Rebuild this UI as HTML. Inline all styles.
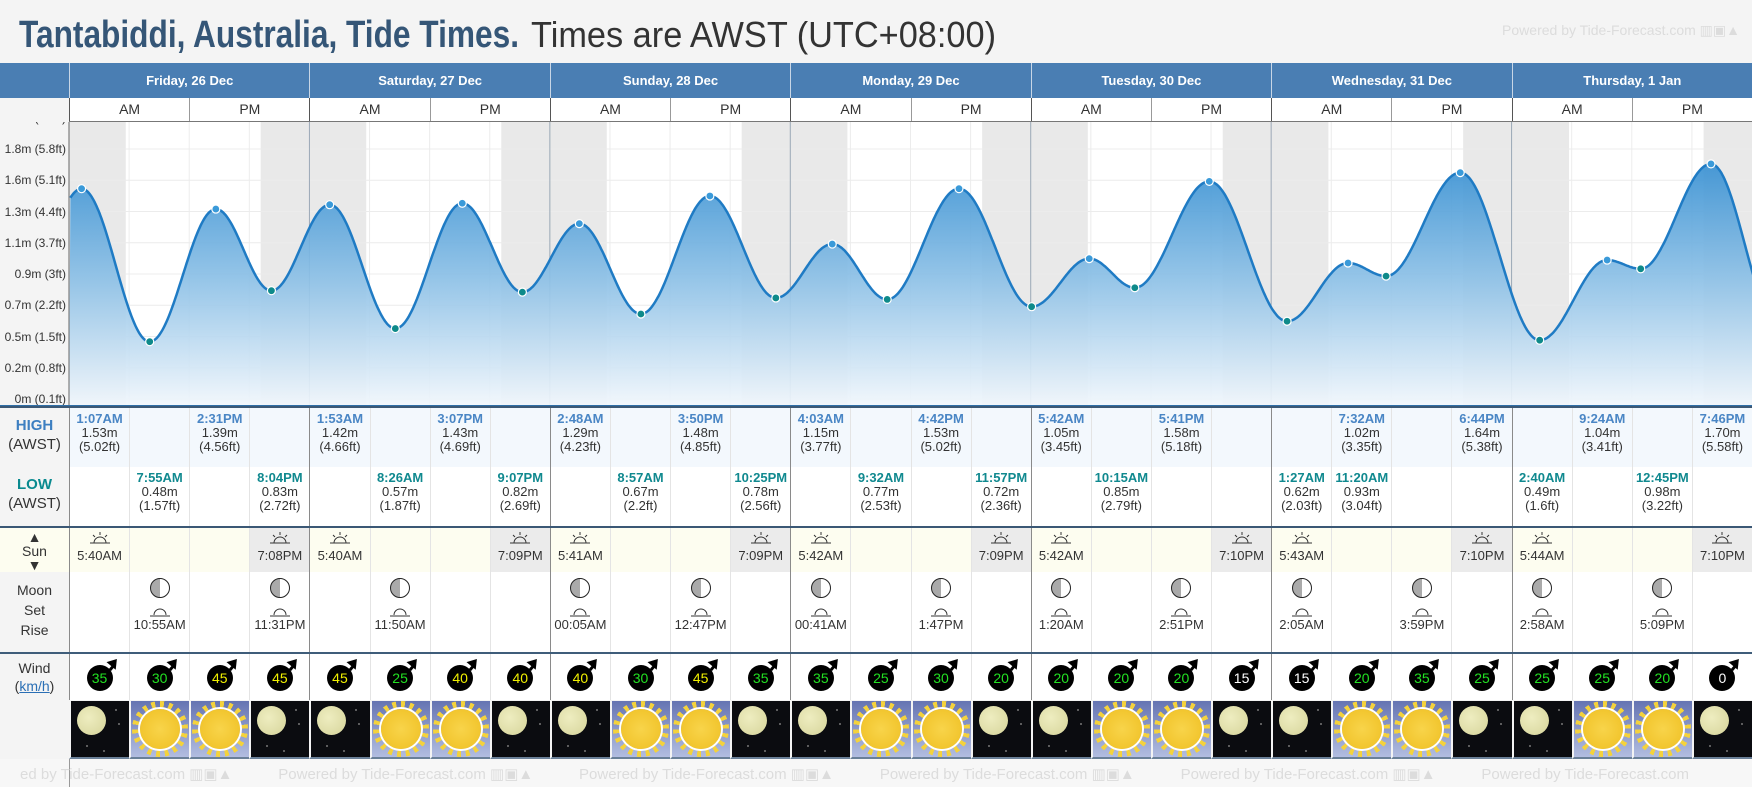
<!DOCTYPE html>
<html><head><meta charset="utf-8">
<style>
*{box-sizing:border-box;margin:0;padding:0}
body{width:1752px;height:787px;background:#f4f4f4;font-family:"Liberation Sans",sans-serif;position:relative;overflow:hidden;color:#333}
.abs{position:absolute}
.row{position:absolute;left:69px;width:1683px;display:grid;grid-template-columns:repeat(28,1fr)}
.row>div{border-left:1px solid #e4e4e4;text-align:center;overflow:hidden;white-space:nowrap}
.row>div:nth-child(4n+1){border-left:1px solid #8a8a8a}
.lab{position:absolute;left:0;width:69px;text-align:center;font-size:15px;color:#333}
.hi{top:408px;height:59px;background:#f3f8fd;font-size:13px;line-height:14px}
.lo{top:467px;height:59px;background:#fff;font-size:13px;line-height:14px}
.hi>div,.lo>div{padding-top:4px}
.hi b{color:#4a86c5;font-size:13px}
.lo b{color:#10898f;font-size:13px}
.sun{top:528px;height:44px;background:#fdfdf0;font-size:13px}
.sun>div{padding-top:3px}
.sun .n{background:#ebebeb}
.moon{top:572px;height:80px;background:#fff;font-size:13px}
.moon>div{padding-top:6px}
.wind{top:654px;height:46px;background:#fff}
.wind>div{padding-top:11px}
.wx{top:701px;height:58px}
.wx>div{border-left:2px solid #f4f4f4!important;border-bottom:2px solid #6a8098}
.nt{background:#0b0c10;position:relative}
.dy{background:linear-gradient(#6574b2,#b2bde0);position:relative}
.mn{position:absolute;left:6px;top:5px;width:29px;height:29px;border-radius:50%;background:radial-gradient(circle at 40% 40%,#eeedc0,#d6d49a)}
.st{position:absolute;width:2px;height:2px;background:#777;border-radius:50%}
.sn{position:absolute;left:50%;top:50%;width:56px;height:56px;margin:-28px 0 0 -28px;border-radius:50%;background:repeating-conic-gradient(#f4d23c 0 9deg,transparent 9deg 20deg)}
.sn::after{content:"";position:absolute;left:8px;top:8px;width:40px;height:40px;border-radius:50%;background:radial-gradient(#f8d44a,#efbf22);box-shadow:0 0 0 2px #fff}
.w{display:inline-block;width:26px;height:26px;border-radius:50%;background:#000;font-size:14px;line-height:26px;position:relative}
.w::after{content:"";position:absolute;right:-7px;top:-7px;width:0;height:0;border-left:6px solid transparent;border-right:6px solid transparent;border-bottom:9px solid #000;transform:rotate(40deg)}
.w::before{content:"";position:absolute;right:-1px;top:-2px;width:3px;height:8px;background:#000;transform:rotate(40deg)}
.g{color:#22e022}.y{color:#f0f000}.wh{color:#fff}
.mi{display:inline-block;width:20px;height:20px;border-radius:50%;border:1.5px solid #222;background:linear-gradient(90deg,#aaa 50%,#fff 50%)}
.ri{display:block;margin:6px auto 0;width:22px;height:10px}
</style></head><body>
<svg class="abs" style="left:0;top:0" width="1100" height="62">
<text x="19" y="47" font-family="Liberation Sans" font-weight="bold" font-size="38" fill="#355677" textLength="500" lengthAdjust="spacingAndGlyphs">Tantabiddi, Australia, Tide Times.</text>
<text x="531" y="47" font-family="Liberation Sans" font-size="36" fill="#333" textLength="465" lengthAdjust="spacingAndGlyphs">Times are AWST (UTC+08:00)</text>
</svg>
<div class="abs" style="right:12px;top:22px;font-size:14px;color:#dcdcdc">Powered by Tide-Forecast.com ▥▣▲</div>
<div class="abs" style="left:0;top:63px;width:1752px;height:35px;background:#4a7eb3"></div>
<div class="row" style="top:63px;height:35px;grid-template-columns:repeat(7,1fr)">
<div style="color:#fff;font-size:13px;font-weight:bold;line-height:35px;border-left:1px solid #c8d6e6">Friday, 26 Dec</div>
<div style="color:#fff;font-size:13px;font-weight:bold;line-height:35px;border-left:1px solid #c8d6e6">Saturday, 27 Dec</div>
<div style="color:#fff;font-size:13px;font-weight:bold;line-height:35px;border-left:1px solid #c8d6e6">Sunday, 28 Dec</div>
<div style="color:#fff;font-size:13px;font-weight:bold;line-height:35px;border-left:1px solid #c8d6e6">Monday, 29 Dec</div>
<div style="color:#fff;font-size:13px;font-weight:bold;line-height:35px;border-left:1px solid #c8d6e6">Tuesday, 30 Dec</div>
<div style="color:#fff;font-size:13px;font-weight:bold;line-height:35px;border-left:1px solid #c8d6e6">Wednesday, 31 Dec</div>
<div style="color:#fff;font-size:13px;font-weight:bold;line-height:35px;border-left:1px solid #c8d6e6">Thursday, 1 Jan</div>
</div>
<div class="row" style="top:98px;height:24px;grid-template-columns:repeat(14,1fr);background:#fff;border-bottom:1px solid #777">
<div style="line-height:23px;font-size:14px;border-left:1px solid #555">AM</div><div style="line-height:23px;font-size:14px;border-left:1px solid #999">PM</div>
<div style="line-height:23px;font-size:14px;border-left:1px solid #555">AM</div><div style="line-height:23px;font-size:14px;border-left:1px solid #999">PM</div>
<div style="line-height:23px;font-size:14px;border-left:1px solid #555">AM</div><div style="line-height:23px;font-size:14px;border-left:1px solid #999">PM</div>
<div style="line-height:23px;font-size:14px;border-left:1px solid #555">AM</div><div style="line-height:23px;font-size:14px;border-left:1px solid #999">PM</div>
<div style="line-height:23px;font-size:14px;border-left:1px solid #555">AM</div><div style="line-height:23px;font-size:14px;border-left:1px solid #999">PM</div>
<div style="line-height:23px;font-size:14px;border-left:1px solid #555">AM</div><div style="line-height:23px;font-size:14px;border-left:1px solid #999">PM</div>
<div style="line-height:23px;font-size:14px;border-left:1px solid #555">AM</div><div style="line-height:23px;font-size:14px;border-left:1px solid #999">PM</div>
</div>
<svg id="ch" class="abs" style="left:0;top:122px" width="1752" height="285" viewBox="0 122 1752 285">
<defs><linearGradient id="gf" gradientUnits="userSpaceOnUse" x1="0" y1="150" x2="0" y2="407"><stop offset="0" stop-color="#2f8bd0"/><stop offset="0.5" stop-color="#8cc0e6"/><stop offset="1" stop-color="#f2f7fc"/></linearGradient></defs>
<rect x="69" y="122" width="1683" height="285" fill="#fff"/>
<g id="night"></g><g id="grid"></g>
<path id="area" fill="url(#gf)" fill-opacity="0.92"/>
<path id="line" fill="none" stroke="#1f7bc4" stroke-width="2.5"/>
<g id="dots"></g>
<g font-family="Liberation Sans" font-size="12" fill="#333" text-anchor="end">
<text x="66" y="122">2m (6.5ft)</text>
<text x="66" y="153">1.8m (5.8ft)</text><text x="66" y="184">1.6m (5.1ft)</text><text x="66" y="216">1.3m (4.4ft)</text><text x="66" y="247">1.1m (3.7ft)</text><text x="66" y="278">0.9m (3ft)</text><text x="66" y="309">0.7m (2.2ft)</text><text x="66" y="341">0.5m (1.5ft)</text><text x="66" y="372">0.2m (0.8ft)</text><text x="66" y="403">0m (0.1ft)</text>
</g>
<line x1="69" y1="122" x2="69" y2="407" stroke="#666"/>
<rect x="0" y="405" width="1752" height="2" fill="#2f6fa8"/>
</svg>
<div class="abs" style="left:0;top:406px;width:1752px;height:2px;background:#3b5875"></div>
<div class="lab" style="top:408px;height:59px;padding-top:8px;line-height:19px;background:#f4f4f4"><b style="color:#3d7fc1">HIGH</b><br>(AWST)</div>
<div class="lab" style="top:467px;height:59px;padding-top:8px;line-height:19px;background:#f4f4f4"><b style="color:#0a8a8f">LOW</b><br>(AWST)</div>
<div class="row hi">
<div><b>1:07AM</b><br>1.53m<br>(5.02ft)</div><div></div><div><b>2:31PM</b><br>1.39m<br>(4.56ft)</div><div></div>
<div><b>1:53AM</b><br>1.42m<br>(4.66ft)</div><div></div><div><b>3:07PM</b><br>1.43m<br>(4.69ft)</div><div></div>
<div><b>2:48AM</b><br>1.29m<br>(4.23ft)</div><div></div><div><b>3:50PM</b><br>1.48m<br>(4.85ft)</div><div></div>
<div><b>4:03AM</b><br>1.15m<br>(3.77ft)</div><div></div><div><b>4:42PM</b><br>1.53m<br>(5.02ft)</div><div></div>
<div><b>5:42AM</b><br>1.05m<br>(3.45ft)</div><div></div><div><b>5:41PM</b><br>1.58m<br>(5.18ft)</div><div></div>
<div></div><div><b>7:32AM</b><br>1.02m<br>(3.35ft)</div><div></div><div><b>6:44PM</b><br>1.64m<br>(5.38ft)</div>
<div></div><div><b>9:24AM</b><br>1.04m<br>(3.41ft)</div><div></div><div><b>7:46PM</b><br>1.70m<br>(5.58ft)</div>
</div>
<div class="row lo">
<div></div><div><b>7:55AM</b><br>0.48m<br>(1.57ft)</div><div></div><div><b>8:04PM</b><br>0.83m<br>(2.72ft)</div>
<div></div><div><b>8:26AM</b><br>0.57m<br>(1.87ft)</div><div></div><div><b>9:07PM</b><br>0.82m<br>(2.69ft)</div>
<div></div><div><b>8:57AM</b><br>0.67m<br>(2.2ft)</div><div></div><div><b>10:25PM</b><br>0.78m<br>(2.56ft)</div>
<div></div><div><b>9:32AM</b><br>0.77m<br>(2.53ft)</div><div></div><div><b>11:57PM</b><br>0.72m<br>(2.36ft)</div>
<div></div><div><b>10:15AM</b><br>0.85m<br>(2.79ft)</div><div></div><div></div>
<div><b>1:27AM</b><br>0.62m<br>(2.03ft)</div><div><b>11:20AM</b><br>0.93m<br>(3.04ft)</div><div></div><div></div>
<div><b>2:40AM</b><br>0.49m<br>(1.6ft)</div><div></div><div><b>12:45PM</b><br>0.98m<br>(3.22ft)</div><div></div>
</div>
<div class="abs" style="left:0;top:526px;width:1752px;height:2px;background:#3b5875"></div>
<div class="lab" style="top:528px;height:44px;background:#fdfdf0;line-height:14px;padding-top:2px;font-size:14px">▲<br>Sun<br>▼</div>
<div class="row sun">
<div><svg width="22" height="14"><path d="M5 12a6 6 0 0 1 12 0M1 12h20M11 1v3M4 4l2 2M18 4l-2 2" stroke="#333" fill="none"/></svg><br>5:40AM</div><div></div><div></div><div class="n"><svg width="22" height="14"><path d="M5 12a6 6 0 0 1 12 0M1 12h20M11 1v3M4 4l2 2M18 4l-2 2" stroke="#333" fill="none"/></svg><br>7:08PM</div>
<div><svg width="22" height="14"><path d="M5 12a6 6 0 0 1 12 0M1 12h20M11 1v3M4 4l2 2M18 4l-2 2" stroke="#333" fill="none"/></svg><br>5:40AM</div><div></div><div></div><div class="n"><svg width="22" height="14"><path d="M5 12a6 6 0 0 1 12 0M1 12h20M11 1v3M4 4l2 2M18 4l-2 2" stroke="#333" fill="none"/></svg><br>7:09PM</div>
<div><svg width="22" height="14"><path d="M5 12a6 6 0 0 1 12 0M1 12h20M11 1v3M4 4l2 2M18 4l-2 2" stroke="#333" fill="none"/></svg><br>5:41AM</div><div></div><div></div><div class="n"><svg width="22" height="14"><path d="M5 12a6 6 0 0 1 12 0M1 12h20M11 1v3M4 4l2 2M18 4l-2 2" stroke="#333" fill="none"/></svg><br>7:09PM</div>
<div><svg width="22" height="14"><path d="M5 12a6 6 0 0 1 12 0M1 12h20M11 1v3M4 4l2 2M18 4l-2 2" stroke="#333" fill="none"/></svg><br>5:42AM</div><div></div><div></div><div class="n"><svg width="22" height="14"><path d="M5 12a6 6 0 0 1 12 0M1 12h20M11 1v3M4 4l2 2M18 4l-2 2" stroke="#333" fill="none"/></svg><br>7:09PM</div>
<div><svg width="22" height="14"><path d="M5 12a6 6 0 0 1 12 0M1 12h20M11 1v3M4 4l2 2M18 4l-2 2" stroke="#333" fill="none"/></svg><br>5:42AM</div><div></div><div></div><div class="n"><svg width="22" height="14"><path d="M5 12a6 6 0 0 1 12 0M1 12h20M11 1v3M4 4l2 2M18 4l-2 2" stroke="#333" fill="none"/></svg><br>7:10PM</div>
<div><svg width="22" height="14"><path d="M5 12a6 6 0 0 1 12 0M1 12h20M11 1v3M4 4l2 2M18 4l-2 2" stroke="#333" fill="none"/></svg><br>5:43AM</div><div></div><div></div><div class="n"><svg width="22" height="14"><path d="M5 12a6 6 0 0 1 12 0M1 12h20M11 1v3M4 4l2 2M18 4l-2 2" stroke="#333" fill="none"/></svg><br>7:10PM</div>
<div><svg width="22" height="14"><path d="M5 12a6 6 0 0 1 12 0M1 12h20M11 1v3M4 4l2 2M18 4l-2 2" stroke="#333" fill="none"/></svg><br>5:44AM</div><div></div><div></div><div class="n"><svg width="22" height="14"><path d="M5 12a6 6 0 0 1 12 0M1 12h20M11 1v3M4 4l2 2M18 4l-2 2" stroke="#333" fill="none"/></svg><br>7:10PM</div>
</div>
<div class="lab" style="top:572px;height:80px;line-height:20px;padding-top:8px;font-size:14px">Moon<br>Set<br>Rise</div>
<div class="row moon">
<div></div><div><span class="mi"></span><svg class="ri" viewBox="0 0 22 10"><path d="M5 8a6 6 0 0 1 12 0M1 9h20" stroke="#333" fill="none"/></svg>10:55AM</div><div></div><div><span class="mi"></span><svg class="ri" viewBox="0 0 22 10"><path d="M5 8a6 6 0 0 1 12 0M1 9h20" stroke="#333" fill="none"/></svg>11:31PM</div>
<div></div><div><span class="mi"></span><svg class="ri" viewBox="0 0 22 10"><path d="M5 8a6 6 0 0 1 12 0M1 9h20" stroke="#333" fill="none"/></svg>11:50AM</div><div></div><div></div>
<div><span class="mi"></span><svg class="ri" viewBox="0 0 22 10"><path d="M5 8a6 6 0 0 1 12 0M1 9h20" stroke="#333" fill="none"/></svg>00:05AM</div><div></div><div><span class="mi"></span><svg class="ri" viewBox="0 0 22 10"><path d="M5 8a6 6 0 0 1 12 0M1 9h20" stroke="#333" fill="none"/></svg>12:47PM</div><div></div>
<div><span class="mi"></span><svg class="ri" viewBox="0 0 22 10"><path d="M5 8a6 6 0 0 1 12 0M1 9h20" stroke="#333" fill="none"/></svg>00:41AM</div><div></div><div><span class="mi"></span><svg class="ri" viewBox="0 0 22 10"><path d="M5 8a6 6 0 0 1 12 0M1 9h20" stroke="#333" fill="none"/></svg>1:47PM</div><div></div>
<div><span class="mi"></span><svg class="ri" viewBox="0 0 22 10"><path d="M5 8a6 6 0 0 1 12 0M1 9h20" stroke="#333" fill="none"/></svg>1:20AM</div><div></div><div><span class="mi"></span><svg class="ri" viewBox="0 0 22 10"><path d="M5 8a6 6 0 0 1 12 0M1 9h20" stroke="#333" fill="none"/></svg>2:51PM</div><div></div>
<div><span class="mi"></span><svg class="ri" viewBox="0 0 22 10"><path d="M5 8a6 6 0 0 1 12 0M1 9h20" stroke="#333" fill="none"/></svg>2:05AM</div><div></div><div><span class="mi"></span><svg class="ri" viewBox="0 0 22 10"><path d="M5 8a6 6 0 0 1 12 0M1 9h20" stroke="#333" fill="none"/></svg>3:59PM</div><div></div>
<div><span class="mi"></span><svg class="ri" viewBox="0 0 22 10"><path d="M5 8a6 6 0 0 1 12 0M1 9h20" stroke="#333" fill="none"/></svg>2:58AM</div><div></div><div><span class="mi"></span><svg class="ri" viewBox="0 0 22 10"><path d="M5 8a6 6 0 0 1 12 0M1 9h20" stroke="#333" fill="none"/></svg>5:09PM</div><div></div>
</div>
<div class="abs" style="left:0;top:652px;width:1752px;height:2px;background:#3f5d7a"></div>
<div class="lab" style="top:654px;height:46px;line-height:18px;padding-top:5px;font-size:14px">Wind<br>(<u style="color:#2a6fb5">km/h</u>)</div>
<div class="row wind">
<div><span class="w g">35</span></div><div><span class="w g">30</span></div><div><span class="w y">45</span></div><div><span class="w y">45</span></div>
<div><span class="w y">45</span></div><div><span class="w g">25</span></div><div><span class="w y">40</span></div><div><span class="w y">40</span></div>
<div><span class="w y">40</span></div><div><span class="w g">30</span></div><div><span class="w y">45</span></div><div><span class="w g">35</span></div>
<div><span class="w g">35</span></div><div><span class="w g">25</span></div><div><span class="w g">30</span></div><div><span class="w g">20</span></div>
<div><span class="w g">20</span></div><div><span class="w g">20</span></div><div><span class="w g">20</span></div><div><span class="w wh">15</span></div>
<div><span class="w wh">15</span></div><div><span class="w g">20</span></div><div><span class="w g">35</span></div><div><span class="w g">25</span></div>
<div><span class="w g">25</span></div><div><span class="w g">25</span></div><div><span class="w g">20</span></div><div><span class="w wh">0</span></div>
</div>
<div class="row wx" id="wx"></div>
<div class="abs" style="left:0;top:759px;width:1752px;height:28px;background:#f7f7f7"></div>
<div class="abs" style="left:69px;top:759px;width:1px;height:28px;background:#999"></div>
<div class="abs" style="left:20px;top:765px;font-size:15px;color:#dcdcdc;white-space:nowrap;width:1732px;overflow:hidden">ed by Tide-Forecast.com ▥▣▲ &nbsp;&nbsp;&nbsp;&nbsp;&nbsp;&nbsp;&nbsp;&nbsp;&nbsp; Powered by Tide-Forecast.com ▥▣▲ &nbsp;&nbsp;&nbsp;&nbsp;&nbsp;&nbsp;&nbsp;&nbsp;&nbsp; Powered by Tide-Forecast.com ▥▣▲ &nbsp;&nbsp;&nbsp;&nbsp;&nbsp;&nbsp;&nbsp;&nbsp;&nbsp; Powered by Tide-Forecast.com ▥▣▲ &nbsp;&nbsp;&nbsp;&nbsp;&nbsp;&nbsp;&nbsp;&nbsp;&nbsp; Powered by Tide-Forecast.com ▥▣▲ &nbsp;&nbsp;&nbsp;&nbsp;&nbsp;&nbsp;&nbsp;&nbsp;&nbsp; Powered by Tide-Forecast.com</div>
<script>
var NS="http://www.w3.org/2000/svg";
function el(t,a,p){var e=document.createElementNS(NS,t);for(var k in a)e.setAttribute(k,a[k]);p.appendChild(e);return e;}
var DW=240.43,X0=69;
function X(t){return X0+t*DW/24+1.4;}
function Y(h){return 411.6-145.7*h;}
var ex=[[-4.8,0.8,0],[1+7/60,1.53,1],[7+55/60,.48,0],[14+31/60,1.39,1],[20+4/60,.83,0],
[24+1+53/60,1.42,1],[24+8+26/60,.57,0],[24+15+7/60,1.43,1],[24+21+7/60,.82,0],
[48+2+48/60,1.29,1],[48+8+57/60,.67,0],[48+15+50/60,1.48,1],[48+22+25/60,.78,0],
[72+4+3/60,1.15,1],[72+9+32/60,.77,0],[72+16+42/60,1.53,1],[72+23+57/60,.72,0],
[96+5+42/60,1.05,1],[96+10+15/60,.85,0],[96+17+41/60,1.58,1],
[120+1+27/60,.62,0],[120+7+32/60,1.02,1],[120+11+20/60,.93,0],[120+18+44/60,1.64,1],
[144+2+40/60,.49,0],[144+9+24/60,1.04,1],[144+12+45/60,.98,0],[144+19+46/60,1.70,1],[170.5,0.6,0]];
var svg=document.getElementById('ch');
var ng=document.getElementById('night'),gg=document.getElementById('grid');
var sr=[5+40/60,5+40/60,5+41/60,5+42/60,5+42/60,5+43/60,5+44/60],ss=[19+8/60,19+9/60,19+9/60,19+9/60,19+10/60,19+10/60,19+10/60];
for(var d=0;d<7;d++){
 el('rect',{x:X0+d*DW,y:122,width:sr[d]*DW/24,height:285,fill:'#e9e9e9'},ng);
 el('rect',{x:X0+d*DW+ss[d]*DW/24,y:122,width:(24-ss[d])*DW/24,height:285,fill:'#e9e9e9'},ng);
}
for(var k=0;k<=9;k++){var y=149+k*31.25-31.25;el('line',{x1:69,x2:1752,y1:y,y2:y,stroke:'#ececec'},gg);}
for(var i=1;i<28;i++){var x=X0+i*DW/4;el('line',{x1:x,x2:x,y1:122,y2:407,stroke:i%4?'#ececec':'#9aa8b6'},gg);}
var pts=[];
for(var t=0;t<=168.01;t+=0.1){
 var j=0;while(ex[j+1][0]<t)j++;
 var a=ex[j],b=ex[j+1],f=(t-a[0])/(b[0]-a[0]);
 var h=a[1]+(b[1]-a[1])*(1-Math.cos(Math.PI*f))/2;
 pts.push(X(t).toFixed(1)+','+Y(h).toFixed(1));
}
var dl='M'+pts.join('L');
document.getElementById('line').setAttribute('d',dl);
document.getElementById('area').setAttribute('d',dl+'L1752,407L69,407Z');
var dg=document.getElementById('dots');
ex.forEach(function(e){if(e[0]<0||e[0]>168)return;el('circle',{cx:X(e[0]),cy:Y(e[1]),r:4,fill:e[2]?'#3a9ad9':'#0e8a8a',stroke:'#fff','stroke-width':1.2},dg);});
var wx=document.getElementById('wx');
for(var i=0;i<28;i++){
 var s=i%4,c=document.createElement('div');
 if(s==0||s==3){c.className='nt';c.innerHTML='<div class="mn"></div><div class="st" style="left:44px;top:8px"></div><div class="st" style="left:47px;top:22px"></div><div class="st" style="left:15px;top:44px"></div><div class="st" style="left:32px;top:49px"></div>';}
 else{c.className='dy';c.innerHTML='<div class="sn"></div>';}
 wx.appendChild(c);
}
</script>
</body></html>
